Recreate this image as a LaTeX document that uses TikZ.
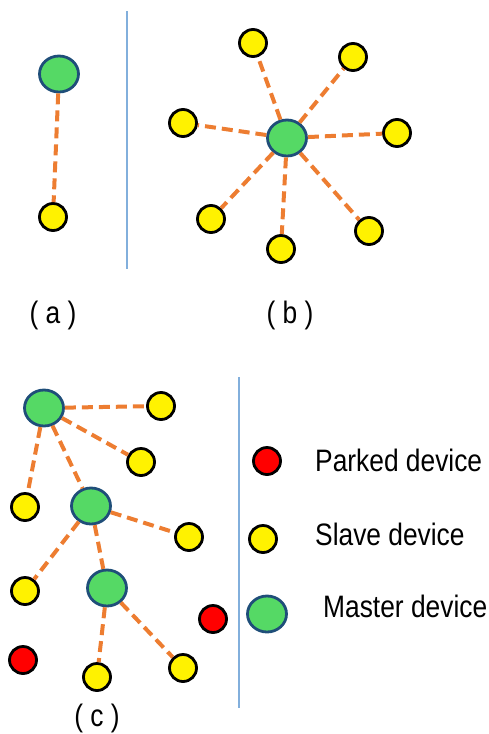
\documentclass[tikz,border=0pt]{standalone}
\usepackage{fontspec}
\usepackage{tikz}
\usetikzlibrary{shapes.geometric}
\newfontfamily\legendFont[FakeStretch=0.85]{Liberation Sans}
\definecolor{masterColor}{RGB}{85,217,101}
\definecolor{masterBorder}{RGB}{31,78,121}
\definecolor{linkColor}{RGB}{237,125,49}
\definecolor{dividerColor}{RGB}{130,175,220}
\tikzstyle{picture} = [x = 1pt, y = -1pt]
\tikzstyle{masterStyle} = [ellipse, draw=masterBorder, fill=masterColor, line width=2.8pt, minimum width=39pt, minimum height=36pt, inner sep=0pt]
\tikzstyle{slaveStyle} = [circle, draw=black, fill=yellow, line width=2.8pt, minimum size=27pt, inner sep=0pt]
\tikzstyle{parkedStyle} = [slaveStyle, fill=red]
\tikzstyle{linkStyle} = [color=linkColor, line width=4pt, dash pattern=on 11pt off 6pt]
\tikzstyle{dividerStyle} = [color=dividerColor, line width=1.6pt]
\tikzstyle{labelText} = [font=\legendFont\fontsize{31}{36}\selectfont, inner sep=0pt]
\newcommand{\masterDevice}[3]{\node [masterStyle] (#1) at (#2,#3) {};}
\newcommand{\slaveDevice}[3]{\node [slaveStyle] (#1) at (#2,#3) {};}
\newcommand{\parkedDevice}[3]{\node [parkedStyle] (#1) at (#2,#3) {};}
\newcommand{\deviceLink}[2]{\draw [linkStyle] (#1) -- (#2);}

\begin{document}
\begin{tikzpicture}[picture]
  \useasboundingbox (0,0) rectangle (488,734);

  % (a) one master, one slave
  \masterDevice{aMaster}{59}{74}
  \slaveDevice{aSlave}{53}{217}
  \deviceLink{aMaster}{aSlave}
  \node [labelText, anchor=base] (aLabel) at (53,323) {( a )};

  \coordinate (topDivTop) at (127,11);
  \coordinate (topDivBottom) at (127,269);
  \draw [dividerStyle] (topDivTop) -- (topDivBottom);

  % (b) star
  \masterDevice{bMaster}{287}{138}
  \slaveDevice{bOne}{253}{43}
  \slaveDevice{bTwo}{353}{57}
  \slaveDevice{bThree}{183}{123}
  \slaveDevice{bFour}{397}{133}
  \slaveDevice{bFive}{211}{219}
  \slaveDevice{bSix}{281}{249}
  \slaveDevice{bSeven}{369}{231}
  \foreach \slave in {bOne,bTwo,bThree,bFour,bFive,bSix,bSeven} {
    \deviceLink{bMaster}{\slave}
  }
  \node [labelText, anchor=base] (bLabel) at (290,323) {( b )};

  % (c) scatternet
  \masterDevice{cMasterOne}{44}{408}
  \masterDevice{cMasterTwo}{91}{506}
  \masterDevice{cMasterThree}{107}{588}
  \slaveDevice{cOne}{161}{406}
  \slaveDevice{cTwo}{141}{462}
  \slaveDevice{cThree}{25}{507}
  \slaveDevice{cFour}{189}{537}
  \slaveDevice{cFive}{25}{591}
  \slaveDevice{cSix}{97}{677}
  \slaveDevice{cSeven}{183}{668}
  \parkedDevice{cParkedOne}{213}{619}
  \parkedDevice{cParkedTwo}{23}{660}
  \deviceLink{cMasterOne}{cOne}
  \deviceLink{cMasterOne}{cTwo}
  \deviceLink{cMasterOne}{cThree}
  \deviceLink{cMasterOne}{cMasterTwo}
  \deviceLink{cMasterTwo}{cFour}
  \deviceLink{cMasterTwo}{cFive}
  \deviceLink{cMasterTwo}{cMasterThree}
  \deviceLink{cMasterThree}{cSix}
  \deviceLink{cMasterThree}{cSeven}
  \node [labelText, anchor=base] (cLabel) at (97,726) {( c )};

  \coordinate (bottomDivTop) at (239,377);
  \coordinate (bottomDivBottom) at (239,708);
  \draw [dividerStyle] (bottomDivTop) -- (bottomDivBottom);

  % legend
  \parkedDevice{keyParked}{267}{461}
  \slaveDevice{keySlave}{263}{539}
  \masterDevice{keyMaster}{267}{614}
  \node [labelText, anchor=base west] (keyParkedText) at (315,471) {Parked device};
  \node [labelText, anchor=base west] (keySlaveText) at (315,545) {Slave device};
  \node [labelText, anchor=base west] (keyMasterText) at (323,617) {Master device};
\end{tikzpicture}
\end{document}
